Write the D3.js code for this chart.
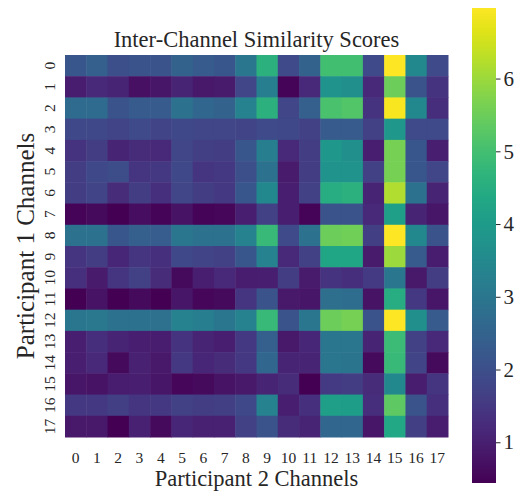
<!DOCTYPE html>
<html>
<head>
<meta charset="utf-8">
<script src="https://cdn.jsdelivr.net/npm/d3@7"></script>
<style>
  body { margin: 0; background: #fff; }
  text { font-family: "Liberation Serif", "Times New Roman", serif; fill: #262626; }
</style>
</head>
<body>
<script>
// channel labels
var rowLabels = d3.range(18).map(String);
var colLabels = d3.range(18).map(String);
var cbTicks = [1, 2, 3, 4, 5, 6];

// similarity scores, one array per Participant 1 channel (columns = Participant 2 channels)
var row0  = [2.2, 2.4, 2.0, 2.1, 2.1, 2.5, 2.3, 2.2, 3.0, 4.6, 1.9, 2.5, 5.0, 5.0, 1.9, 6.97, 3.5, 1.9];
var row1  = [0.95, 1.2, 1.1, 0.7, 0.8, 1.1, 0.85, 0.9, 1.8, 3.2, 0.5, 1.2, 3.8, 3.7, 1.2, 5.5, 2.1, 1.4];
var row2  = [2.7, 2.7, 2.1, 2.3, 2.3, 2.9, 2.6, 2.5, 3.3, 4.6, 1.8, 2.4, 5.1, 5.2, 1.4, 6.9, 3.5, 1.3];
var row3  = [1.85, 1.85, 1.75, 1.9, 1.75, 1.85, 1.8, 1.8, 1.75, 1.9, 1.85, 1.7, 2.3, 2.3, 1.7, 3.9, 1.9, 1.9];
var row4  = [1.4, 1.6, 1.1, 1.25, 1.2, 1.8, 1.65, 1.6, 2.2, 3.2, 1.2, 1.6, 3.9, 3.7, 1.0, 5.6, 2.2, 1.0];
var row5  = [1.6, 1.85, 1.95, 1.45, 1.5, 1.85, 1.45, 1.5, 2.0, 2.9, 0.9, 1.6, 3.8, 3.8, 1.7, 5.6, 2.2, 1.8];
var row6  = [1.6, 1.75, 1.25, 1.6, 1.35, 1.8, 1.6, 1.5, 2.2, 3.5, 1.0, 1.7, 4.5, 4.6, 1.1, 6.2, 2.9, 1.1];
var row7  = [0.5, 0.6, 0.46, 0.65, 0.5, 0.75, 0.5, 0.55, 1.0, 1.7, 1.0, 0.5, 2.1, 2.1, 1.2, 4.1, 1.1, 0.8];
var row8  = [2.9, 2.9, 2.2, 2.4, 2.35, 3.0, 2.9, 2.9, 3.3, 4.85, 1.9, 2.9, 5.5, 5.55, 1.65, 6.95, 3.5, 2.1];
var row9  = [1.45, 1.6, 1.15, 1.45, 1.35, 1.85, 1.75, 1.7, 2.2, 3.3, 1.2, 1.7, 4.3, 4.3, 0.9, 6.0, 2.3, 0.95];
var row10 = [1.35, 0.9, 1.45, 1.7, 1.25, 0.6, 1.0, 1.2, 0.95, 1.0, 1.6, 0.9, 1.4, 1.3, 1.55, 3.0, 0.85, 1.6];
var row11 = [0.44, 0.75, 0.45, 0.6, 0.45, 0.8, 0.55, 0.6, 1.45, 2.1, 0.85, 0.8, 2.8, 2.75, 0.75, 4.5, 1.5, 0.8];
var row12 = [3.0, 3.05, 2.9, 2.9, 2.85, 3.3, 3.2, 3.0, 3.3, 4.85, 2.1, 3.0, 5.5, 5.6, 2.1, 6.95, 3.7, 2.3];
var row13 = [1.0, 1.3, 1.1, 1.0, 0.95, 1.4, 1.1, 1.0, 1.5, 2.4, 0.85, 1.15, 3.0, 3.0, 1.1, 4.9, 1.7, 1.2];
var row14 = [1.0, 1.2, 0.6, 1.05, 0.85, 1.5, 1.15, 1.25, 1.5, 2.6, 1.1, 1.1, 3.0, 2.95, 0.6, 4.85, 1.75, 0.6];
var row15 = [0.8, 0.75, 0.95, 1.0, 0.8, 0.55, 0.6, 0.75, 0.85, 1.1, 1.25, 0.45, 1.55, 1.6, 1.25, 3.5, 0.95, 1.45];
var row16 = [1.5, 1.5, 1.65, 1.45, 1.5, 1.7, 1.6, 1.65, 1.85, 3.3, 1.0, 1.35, 4.1, 4.05, 1.3, 5.35, 2.1, 1.35];
var row17 = [0.85, 0.85, 0.45, 1.05, 0.6, 1.15, 1.05, 1.05, 1.7, 2.1, 1.25, 1.1, 2.6, 2.6, 0.8, 4.35, 1.65, 0.95];

var scores = [row0, row1, row2, row3, row4, row5, row6, row7, row8,
              row9, row10, row11, row12, row13, row14, row15, row16, row17];

var w = 522, h = 491;
var mLeft = 65, mRight = 448, mTop = 55, mBottom = 437;

var cells = [];
scores.forEach(function(r, i) {
  r.forEach(function(v, j) {
    cells.push({row: rowLabels[i], col: colLabels[j], value: v});
  });
});

var svg = d3.select("body").append("svg")
    .attr("width", w)
    .attr("height", h);

var x = d3.scaleBand().domain(colLabels).range([mLeft, mRight]);
var y = d3.scaleBand().domain(rowLabels).range([mTop, mBottom]);

var ext = d3.extent(cells, function(d) { return d.value; });
var color = d3.scaleSequential(d3.interpolateViridis).domain(ext);

svg.selectAll("rect.cell")
  .data(cells)
  .enter()
  .append("rect")
  .attr("class", "cell")
  .attr("x", function(d) { return x(d.col); })
  .attr("y", function(d) { return y(d.row); })
  .attr("width", x.bandwidth() + 0.5)
  .attr("height", y.bandwidth() + 0.5)
  .attr("fill", function(d) { return color(d.value); });

// x tick labels
svg.selectAll("text.xt")
  .data(colLabels)
  .enter()
  .append("text")
  .attr("class", "xt")
  .attr("x", function(d) { return x(d) + x.bandwidth() / 2; })
  .attr("y", 463)
  .attr("text-anchor", "middle")
  .style("font-size", "15.5px")
  .text(function(d) { return d; });

// y tick labels (rotated)
svg.selectAll("text.yt")
  .data(rowLabels)
  .enter()
  .append("text")
  .attr("class", "yt")
  .attr("transform", function(d) {
    return "translate(55," + (y(d) + y.bandwidth() / 2) + ") rotate(-90)";
  })
  .attr("text-anchor", "middle")
  .style("font-size", "15.5px")
  .text(function(d) { return d; });

svg.append("text")
  .attr("x", (mLeft + mRight) / 2)
  .attr("y", 47)
  .attr("text-anchor", "middle")
  .style("font-size", "22.5px")
  .text("Inter-Channel Similarity Scores");

svg.append("text")
  .attr("x", (mLeft + mRight) / 2)
  .attr("y", 486)
  .attr("text-anchor", "middle")
  .style("font-size", "22.5px")
  .text("Participant 2 Channels");

svg.append("text")
  .attr("transform", "translate(34," + (mTop + mBottom) / 2 + ") rotate(-90)")
  .attr("text-anchor", "middle")
  .style("font-size", "25px")
  .text("Participant 1 Channels");

// colorbar
var cbX = 472, cbW = 24, cbTop = 8, cbBot = 483;
var cy = d3.scaleLinear().domain(ext).range([cbBot, cbTop]);

var defs = svg.append("defs");
var grad = defs.append("linearGradient")
    .attr("id", "vgrad")
    .attr("x1", "0%").attr("y1", "100%")
    .attr("x2", "0%").attr("y2", "0%");
grad.selectAll("stop")
  .data(d3.range(0, 1.0001, 0.05))
  .enter()
  .append("stop")
  .attr("offset", function(t) { return (t * 100) + "%"; })
  .attr("stop-color", function(t) { return d3.interpolateViridis(t); });

svg.append("rect")
  .attr("x", cbX)
  .attr("y", cbTop)
  .attr("width", cbW)
  .attr("height", cbBot - cbTop)
  .attr("fill", "url(#vgrad)");

var cbAxis = svg.append("g")
  .attr("transform", "translate(" + (cbX + cbW) + ",0)")
  .call(d3.axisRight(cy).tickValues(cbTicks).tickSize(4.5).tickPadding(3).tickFormat(d3.format("d")));
cbAxis.select(".domain").remove();
cbAxis.selectAll("line").attr("stroke", "#262626");
cbAxis.selectAll("text")
  .style("font-size", "21px")
  .style("font-family", "'Liberation Serif', serif")
  .attr("fill", "#262626");
</script>
</body>
</html>
